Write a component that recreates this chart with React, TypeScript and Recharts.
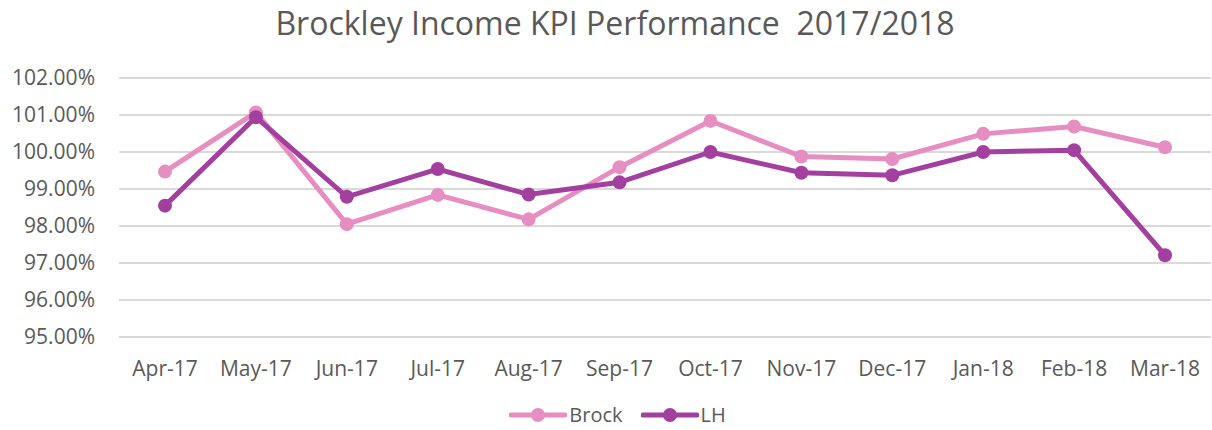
import React from "react";
import { LineChart, Line, XAxis, YAxis, CartesianGrid, Legend } from "recharts";

const months = ["Apr-17", "May-17", "Jun-17", "Jul-17", "Aug-17", "Sep-17", "Oct-17", "Nov-17", "Dec-17", "Jan-18", "Feb-18", "Mar-18"];
const brock = [99.47, 101.07, 98.05, 98.84, 98.18, 99.59, 100.84, 99.88, 99.81, 100.49, 100.69, 100.13];
const lh = [98.55, 100.94, 98.79, 99.54, 98.85, 99.18, 100.0, 99.44, 99.37, 100.0, 100.05, 97.21];
const yTicks = [95, 96, 97, 98, 99, 100, 101, 102];

const data = months.map((m, i) => ({ month: m, Brock: brock[i], LH: lh[i] }));

const BROCK = "#E68EC1";
const LH_C = "#A3409F";
const FONT = "'Open Sans', sans-serif";
const GRAY = "#595959";

const LegendContent = () => {
  const items = [
    { name: "Brock", color: BROCK },
    { name: "LH", color: LH_C },
  ];
  return (
    <div style={{ display: "flex", justifyContent: "center", paddingLeft: 42, paddingTop: 16, fontFamily: FONT, fontSize: 20, color: GRAY, height: 20 }}>
      {items.map((it) => (
        <div key={it.name} style={{ display: "flex", alignItems: "center", marginRight: 18, height: 20 }}>
          <svg width={58} height={16} style={{ marginRight: 2 }}>
            <line x1={2} y1={8} x2={56} y2={8} stroke={it.color} strokeWidth={5} strokeLinecap="round" />
            <circle cx={29} cy={8} r={7} fill={it.color} />
          </svg>
          <span style={{ lineHeight: "20px" }}>{it.name}</span>
        </div>
      ))}
    </div>
  );
};

export default function App() {
  return (
    <div style={{ position: "relative", width: 1212, height: 430, background: "#fff" }}>
      <style>{`body{margin:0;}`}</style>
      <div
        style={{
          position: "absolute",
          top: 1,
          left: 0,
          width: 1230,
          textAlign: "center",
          fontFamily: FONT,
          fontSize: 32,
          color: GRAY,
          whiteSpace: "pre",
          zIndex: 2,
        }}
      >
        Brockley Income KPI Performance  2017/2018
      </div>
      <LineChart width={1212} height={430} data={data} margin={{ top: 78, right: 1, bottom: 0, left: 0 }}>
        <CartesianGrid vertical={false} stroke="#d9d9d9" strokeWidth={2} />
        <XAxis
          dataKey="month"
          axisLine={false}
          tickLine={false}
          tickSize={0}
          tickMargin={24}
          height={52}
          interval={0}
          padding={{ left: 46, right: 46 }}
          tick={{ fill: GRAY, fontSize: 21, fontFamily: FONT }}
        />
        <YAxis
          domain={[95, 102]}
          ticks={yTicks}
          axisLine={false}
          tickLine={false}
          tickSize={0}
          tickMargin={24}
          width={119}
          interval={0}
          tickFormatter={(v: number) => `${v.toFixed(2)}%`}
          tick={{ fill: GRAY, fontSize: 21, fontFamily: FONT }}
        />
        <Legend verticalAlign="bottom" height={41} content={<LegendContent />} />
        <Line
          dataKey="Brock"
          stroke={BROCK}
          strokeWidth={5}
          dot={{ r: 7, fill: BROCK, stroke: BROCK, strokeWidth: 0 }}
          isAnimationActive={false}
        />
        <Line
          dataKey="LH"
          stroke={LH_C}
          strokeWidth={5}
          dot={{ r: 7, fill: LH_C, stroke: LH_C, strokeWidth: 0 }}
          isAnimationActive={false}
        />
      </LineChart>
    </div>
  );
}
